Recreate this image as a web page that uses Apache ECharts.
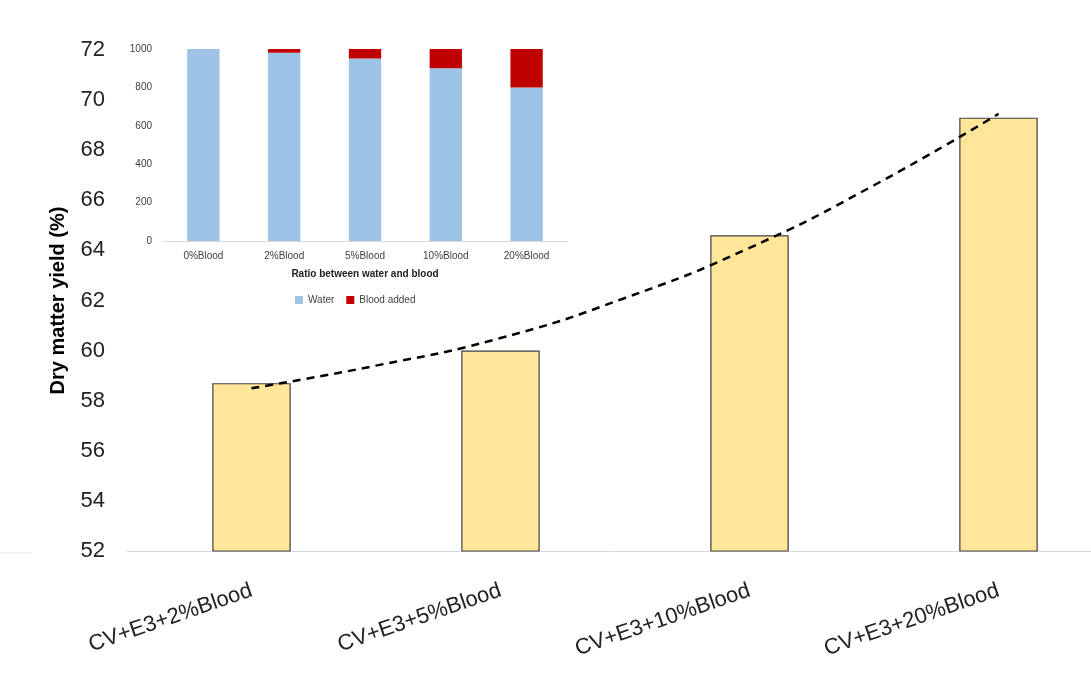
<!DOCTYPE html>
<html>
<head>
<meta charset="utf-8">
<script src="https://cdn.jsdelivr.net/npm/echarts@6/dist/echarts.min.js"></script>
<style>
  html, body { margin: 0; padding: 0; background: #fff; }
  #chart { width: 1091px; height: 674px; }
</style>
</head>
<body>
<div id="chart"></div>
<script>
// main chart data
const categories = ['CV+E3+2%Blood', 'CV+E3+5%Blood', 'CV+E3+10%Blood', 'CV+E3+20%Blood']
const yieldValues = [58.7, 60.0, 64.6, 69.3]
// trend line, x = category index
const trendX = [0, 0.5, 1, 1.5, 2, 2.5, 3]
const trendY = [58.5, 59.4, 60.5, 62.1, 64.1, 66.6, 69.45]

// inset data
const insetCategories = ['0%Blood', '2%Blood', '5%Blood', '10%Blood', '20%Blood']
const waterValues = [1000, 980, 950, 900, 800]
const bloodValues = [0, 20, 50, 100, 200]

const chart = echarts.init(document.getElementById('chart'))
const font = 'Liberation Sans, Arial, sans-serif'

chart.setOption({
  animation: false,
  textStyle: { fontFamily: font },
  grid: [
    { left: 127, top: 50, width: 996, height: 501, outerBoundsMode: 'none', containLabel: false },
    { left: 163, top: 49, width: 404, height: 192, outerBoundsMode: 'none', containLabel: false }
  ],
  legend: {
    data: ['Water', 'Blood added'],
    left: 290,
    top: 290,
    icon: 'rect',
    itemWidth: 8,
    itemHeight: 8,
    itemGap: 12,
    textStyle: { fontSize: 10, color: '#404040', fontFamily: font }
  },
  xAxis: [
    {
      type: 'category',
      gridIndex: 0,
      data: categories,
      axisLine: { lineStyle: { color: '#d9d9d9', width: 1 } },
      axisTick: { show: false },
      axisLabel: {
        rotate: 19,
        margin: 39,
        fontSize: 22,
        color: '#222',
        fontFamily: font
      }
    },
    {
      type: 'category',
      gridIndex: 1,
      data: insetCategories,
      name: 'Ratio between water and blood',
      nameLocation: 'middle',
      nameGap: 28,
      nameTextStyle: { fontSize: 10, fontWeight: 'bold', color: '#222', fontFamily: font },
      axisLine: { lineStyle: { color: '#d9d9d9' } },
      axisTick: { show: false },
      axisLabel: { fontSize: 10, color: '#404040', margin: 10, fontFamily: font }
    },
    {
      type: 'value',
      gridIndex: 0,
      min: -0.5,
      max: 3.5,
      show: false
    }
  ],
  yAxis: [
    {
      type: 'value',
      gridIndex: 0,
      min: 52,
      max: 72,
      interval: 2,
      name: 'Dry matter yield (%)',
      nameLocation: 'middle',
      nameGap: 59,
      nameTextStyle: { fontSize: 20, fontWeight: 'bold', color: '#000', fontFamily: font },
      axisLine: { show: false },
      axisTick: { show: false },
      splitLine: { show: false },
      axisLabel: { fontSize: 22, color: '#222', margin: 22, fontFamily: font }
    },
    {
      type: 'value',
      gridIndex: 1,
      min: 0,
      max: 1000,
      interval: 200,
      axisLine: { show: false },
      axisTick: { show: false },
      splitLine: { show: false },
      axisLabel: { fontSize: 10, color: '#404040', margin: 11, fontFamily: font, formatter: v => String(v) }
    }
  ],
  series: [
    {
      name: 'Dry matter yield',
      type: 'bar',
      xAxisIndex: 0,
      yAxisIndex: 0,
      data: yieldValues,
      barWidth: '31.5%',
      itemStyle: { color: '#FFE699', borderColor: '#404040', borderWidth: 1.2 }
    },
    {
      name: 'Trend',
      type: 'line',
      xAxisIndex: 2,
      yAxisIndex: 0,
      data: trendX.map((x, i) => [x, trendY[i]]),
      smooth: true,
      symbol: 'none',
      lineStyle: { color: '#000', width: 2.5, type: [8, 6] },
      z: 5
    },
    {
      name: 'Water',
      type: 'bar',
      xAxisIndex: 1,
      yAxisIndex: 1,
      stack: 'mix',
      data: waterValues,
      barWidth: '40%',
      itemStyle: { color: '#9DC3E6' }
    },
    {
      name: 'Blood added',
      type: 'bar',
      xAxisIndex: 1,
      yAxisIndex: 1,
      stack: 'mix',
      data: bloodValues,
      barWidth: '40%',
      itemStyle: { color: '#C00000' }
    }
  ],
  graphic: [
    {
      type: 'line',
      shape: { x1: 0, y1: 553, x2: 32, y2: 553 },
      style: { stroke: '#e3e3e3', lineWidth: 1 }
    }
  ]
})
</script>
</body>
</html>
